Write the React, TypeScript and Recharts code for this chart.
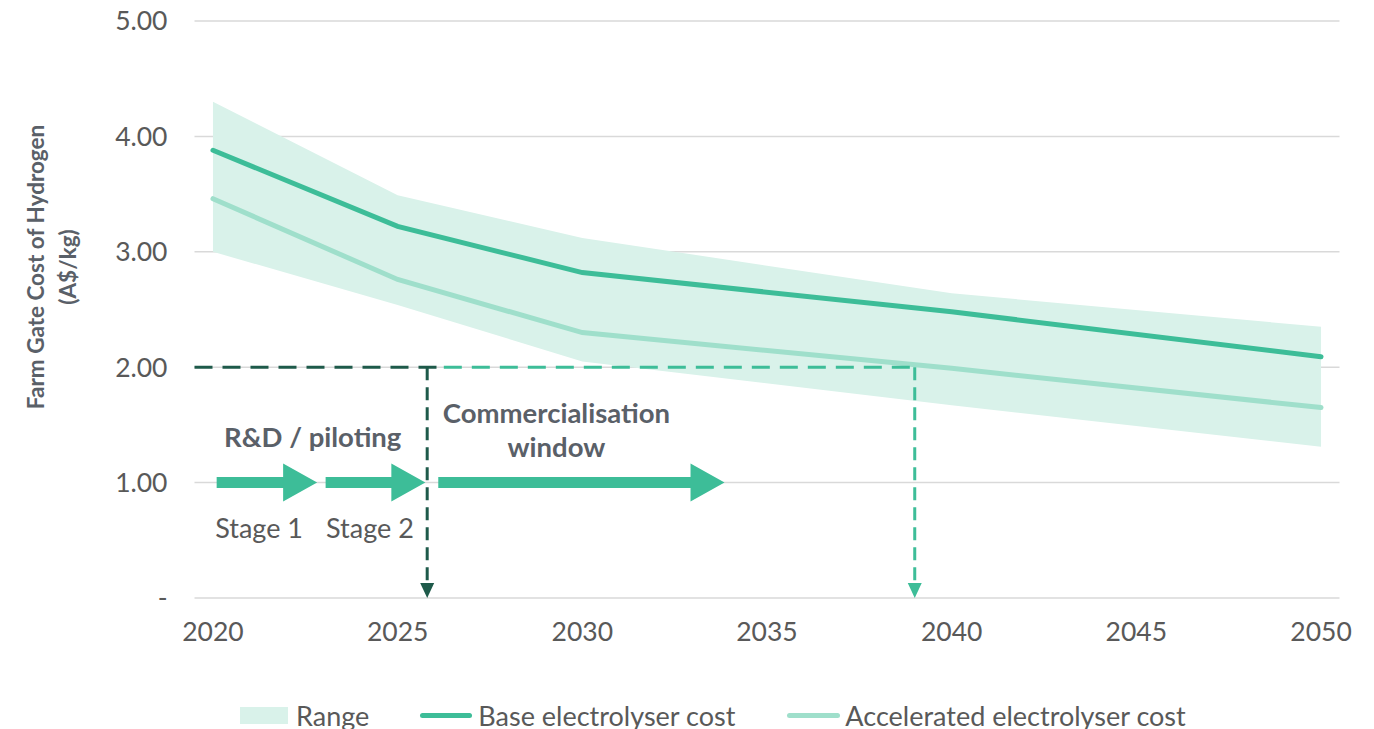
import React from 'react';
import { ComposedChart, Area, Line, XAxis, YAxis, CartesianGrid, Legend, ReferenceLine, ReferenceDot } from 'recharts';

// cost trajectories (A$/kg)
const years = [2020, 2025, 2030, 2040, 2050];
const rangeLow = [3.0, 2.54, 2.05, 1.67, 1.31];
const rangeHigh = [4.3, 3.49, 3.12, 2.64, 2.35];
const baseCost = [3.88, 3.22, 2.82, 2.48, 2.09];
const acceleratedCost = [3.46, 2.76, 2.3, 1.99, 1.65];

const xTicks = [2020, 2025, 2030, 2035, 2040, 2045, 2050];
const yTicks = [0, 1, 2, 3, 4, 5];

// A$2/kg target and the years each scenario reaches it
const targetCost = 2.0;
const baseTargetYear = 2025.8;
const acceleratedTargetYear = 2039;

// stage arrows (years) sitting on the 1.00 line
const arrowLevel = 1.0;
const arrowStarts = [2020.1, 2023.05, 2026.1];
const arrowEnds = [2022.82, 2025.75, 2033.85];

const noteText = ['R&D / piloting', 'Commercialisation', 'window', 'Stage 1', 'Stage 2'];
const noteYear = [2022.7, 2029.3, 2029.3, 2021.25, 2024.25];
const noteCost = [1.4, 1.61, 1.31, 0.61, 0.61];
const noteBold = [true, true, true, false, false];

const data = years.map((year, i) => ({
  year,
  range: [rangeLow[i], rangeHigh[i]],
  base: baseCost[i],
  accelerated: acceleratedCost[i],
}));

const FONT = 'Lato, "Noto Sans", sans-serif';
const TEAL = '#3dbd98';
const LIGHT_TEAL = '#9fdfcb';
const RANGE_FILL = '#d9f2ea';
const DARK_GREEN = '#1e5a4a';
const TEXT = '#595959';
const NOTE_TEXT = '#5a6068';

const BlockArrow = (props: any) => {
  const { x1, x2, y1 } = props;
  const head = 34;
  const pts = [
    [x1, y1 - 5.5],
    [x2 - head, y1 - 5.5],
    [x2 - head, y1 - 19],
    [x2, y1],
    [x2 - head, y1 + 19],
    [x2 - head, y1 + 5.5],
    [x1, y1 + 5.5],
  ]
    .map((p) => p.join(','))
    .join(' ');
  return <polygon points={pts} fill={TEAL} />;
};

const DownArrow = (color: string) => (props: any) => {
  const { x1, y1, y2 } = props;
  const top = Math.min(y1, y2);
  const bottom = Math.max(y1, y2);
  return (
    <g>
      <line x1={x1} x2={x1} y1={top} y2={bottom - 13} stroke={color} strokeWidth={3} strokeDasharray="13 7" />
      <polygon points={`${x1 - 7},${bottom - 15} ${x1 + 7},${bottom - 15} ${x1},${bottom}`} fill={color} />
    </g>
  );
};

const NoteLabel = (text: string, bold: boolean) => (props: any) => (
  <text
    x={props.cx}
    y={props.cy}
    textAnchor="middle"
    dominantBaseline="central"
    fontFamily={FONT}
    fontSize={bold ? 27.5 : 27}
    fontWeight={bold ? 700 : 400}
    fill={bold ? NOTE_TEXT : TEXT}
  >
    {text}
  </text>
);

const YTitle = () => {
  const cy = 267;
  return (
    <g fontFamily={FONT} fontWeight={700} fontSize={22.5} fill={NOTE_TEXT} textAnchor="middle">
      <text transform={`translate(35,${cy}) rotate(-90)`} dominantBaseline="central">
        Farm Gate Cost of Hydrogen
      </text>
      <text transform={`translate(67,${cy}) rotate(-90)`} dominantBaseline="central">
        (A$/kg)
      </text>
    </g>
  );
};

const LegendBox = () => (
  <div
    style={{
      display: 'flex',
      alignItems: 'center',
      height: 28,
      paddingLeft: 240,
      fontFamily: FONT,
      fontSize: 27,
      color: TEXT,
      whiteSpace: 'nowrap',
    }}
  >
    <span style={{ display: 'inline-block', width: 48, height: 17, background: RANGE_FILL, marginRight: 8 }} />
    <span style={{ marginRight: 51 }}>Range</span>
    <span style={{ display: 'inline-block', width: 52, height: 5, borderRadius: 3, background: TEAL, marginRight: 6 }} />
    <span style={{ marginRight: 52 }}>Base electrolyser cost</span>
    <span style={{ display: 'inline-block', width: 53, height: 5, borderRadius: 3, background: LIGHT_TEAL, marginRight: 5 }} />
    <span>Accelerated electrolyser cost</span>
  </div>
);

export default function App() {
  return (
    <div style={{ position: 'absolute', left: 0, top: 0, background: '#fff' }}>
      <ComposedChart width={1374} height={729} data={data} margin={{ top: 21, right: 34.5, left: 0, bottom: 0 }}>
        <CartesianGrid vertical={false} stroke="#d9d9d9" strokeWidth={1.5} />
        <XAxis
          dataKey="year"
          type="number"
          domain={[2019.5, 2050.5]}
          ticks={xTicks}
          axisLine={false}
          tickLine={false}
          tickSize={0}
          tickMargin={24}
          height={103}
          tick={{ fill: TEXT, fontSize: 26.5, fontFamily: FONT }}
        />
        <YAxis
          type="number"
          domain={[0, 5]}
          ticks={yTicks}
          axisLine={false}
          tickLine={false}
          tickSize={0}
          tickMargin={27}
          width={194.5}
          tick={{ fill: TEXT, fontSize: 26.5, fontFamily: FONT }}
          tickFormatter={(v: number) => (v === 0 ? '-' : v.toFixed(2))}
          label={<YTitle />}
        />
        <Legend verticalAlign="bottom" content={<LegendBox />} wrapperStyle={{ left: 0, width: 1374, bottom: 0 }} />
        <Area
          dataKey="range"
          type="linear"
          stroke="none"
          fill={RANGE_FILL}
          fillOpacity={1}
          isAnimationActive={false}
          name="Range"
        />
        <Line
          dataKey="base"
          type="linear"
          stroke={TEAL}
          strokeWidth={5}
          strokeLinecap="round"
          dot={false}
          isAnimationActive={false}
          name="Base electrolyser cost"
        />
        <Line
          dataKey="accelerated"
          type="linear"
          stroke={LIGHT_TEAL}
          strokeWidth={5}
          strokeLinecap="round"
          dot={false}
          isAnimationActive={false}
          name="Accelerated electrolyser cost"
        />
        <ReferenceLine
          segment={[
            { x: 2019.5, y: targetCost },
            { x: baseTargetYear + 0.35, y: targetCost },
          ]}
          stroke={DARK_GREEN}
          strokeWidth={3}
          strokeDasharray="18 10"
        />
        <ReferenceLine
          segment={[
            { x: baseTargetYear + 0.45, y: targetCost },
            { x: acceleratedTargetYear, y: targetCost },
          ]}
          stroke={TEAL}
          strokeWidth={3}
          strokeDasharray="18 10"
        />
        <ReferenceLine
          segment={[
            { x: baseTargetYear, y: targetCost },
            { x: baseTargetYear, y: 0 },
          ]}
          shape={DownArrow(DARK_GREEN)}
        />
        <ReferenceLine
          segment={[
            { x: acceleratedTargetYear, y: targetCost },
            { x: acceleratedTargetYear, y: 0 },
          ]}
          shape={DownArrow(TEAL)}
        />
        {arrowStarts.map((start, i) => (
          <ReferenceLine
            key={`arrow-${i}`}
            segment={[
              { x: start, y: arrowLevel },
              { x: arrowEnds[i], y: arrowLevel },
            ]}
            shape={BlockArrow}
          />
        ))}
        {noteText.map((t, i) => (
          <ReferenceDot key={`note-${i}`} x={noteYear[i]} y={noteCost[i]} r={0} shape={NoteLabel(t, noteBold[i])} />
        ))}
      </ComposedChart>
    </div>
  );
}
